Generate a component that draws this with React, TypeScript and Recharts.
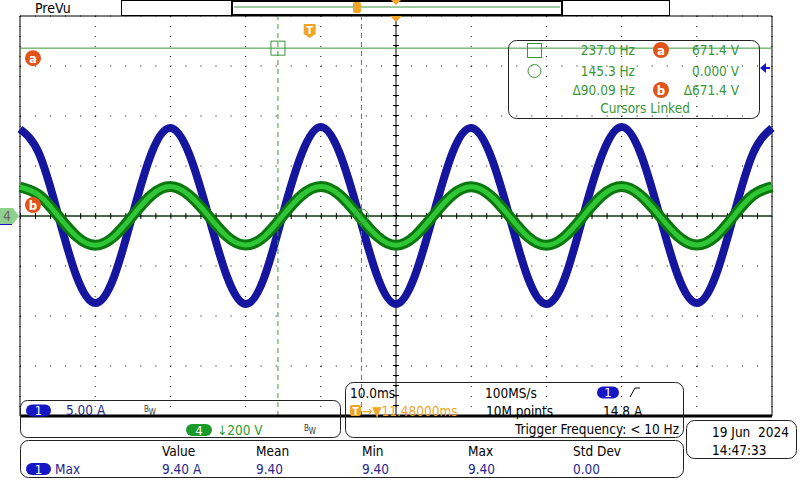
import React from "react";
import {
  ComposedChart,
  Line,
  XAxis,
  YAxis,
  CartesianGrid,
  ReferenceLine,
  ReferenceDot,
} from "recharts";

// time base: 10 ms/div, 10 divisions, trigger point at centre
const timeMs = [
  -50, -47.5, -45, -42.5, -40, -37.5, -35, -32.5, -30, -27.5, -25, -22.5, -20, -17.5,
  -15, -12.5, -10, -7.5, -5, -2.5, 0, 2.5, 5, 7.5, 10, 12.5, 15, 17.5, 20, 22.5, 25,
  27.5, 30, 32.5, 35, 37.5, 40, 42.5, 45, 47.5, 50,
];
// channel 1, current (A), 5 A/div
const ch1Amps = [
  8.7, 6.3, 0.3, -6.0, -8.7, -6.1, 0.2, 6.3, 8.8, 6.2, 0.2, -6.0, -8.8, -6.1, 0.3, 6.3,
  8.9, 6.3, 0.3, -6.0, -8.8, -6.0, 0.2, 6.3, 8.8, 6.2, 0.2, -6.1, -8.8, -6.1, 0.3, 6.3,
  8.9, 6.3, 0.2, -6.0, -8.7, -6.0, 0.3, 6.3, 8.8,
];
// channel 4, voltage (V), 200 V/div
const ch4Volts = [
  116, 84, 3, -81, -117, -82, 2, 84, 118, 83, 3, -81, -116, -82, 3, 84, 118, 84, 2, -81,
  -117, -81, 3, 84, 117, 83, 2, -82, -117, -81, 3, 84, 118, 83, 2, -81, -116, -82, 3, 84,
  117,
];

const timeTicks = [-50, -40, -30, -20, -10, 0, 10, 20, 30, 40, 50];
const ampTicks = [-20, -15, -10, -5, 0, 5, 10, 15, 20];

const triggerTime = -11.48;
const triggerLevel = 14.8;
const cursorTimes = [triggerTime - 4.219, triggerTime + 6.882];
const cursorVolts = [671.4, 0];

const cursorFreq = ["237.0 Hz", "145.3 Hz", "\u039490.09 Hz"];
const cursorVolt = ["671.4 V", "0.000 V", "\u0394671.4 V"];

const measHeaders = ["Value", "Mean", "Min", "Max", "Std Dev"];
const measValues = ["9.40 A", "9.40", "9.40", "9.40", "0.00"];

const data = timeMs.map((t, i) => ({ t, amps: ch1Amps[i], volts: ch4Volts[i] }));

const FONT = "'DejaVu Sans Condensed', 'DejaVu Sans', sans-serif";
const CURSOR = "#3a963a";
const ORANGE = "#e0541c";
const TRIG = "#f0a428";
const PILL_BLUE = "#1616c4";
const TXT_BLUE = "#26268e";

const PLOT = { left: 20, top: 16, width: 752, height: 400 };
const xOf = (t: number) => PLOT.left + ((t + 50) / 100) * PLOT.width;

function Badge({ cx, cy, letter }: { cx: number; cy: number; letter: string }) {
  return (
    <g>
      <circle cx={cx} cy={cy} r={8} fill={ORANGE} />
      <text x={cx} y={cy + 4.5} textAnchor="middle" fill="#fff" fontSize={13} fontWeight="bold" fontFamily={FONT}>
        {letter}
      </text>
    </g>
  );
}

function Pill({ x, y, w, fill, label }: { x: number; y: number; w: number; fill: string; label: string }) {
  return (
    <g>
      <rect x={x} y={y} width={w} height={12} rx={6} fill={fill} />
      <text x={x + w / 2} y={y + 10.5} textAnchor="middle" fill="#fff" fontSize={13} fontFamily={FONT}>
        {label}
      </text>
    </g>
  );
}

function Bw({ x, y }: { x: number; y: number }) {
  return (
    <text x={x} y={y} fontSize={8} fontFamily={FONT} fill="#333">
      B<tspan dy={3}>W</tspan>
    </text>
  );
}

function TIcon({ x, y }: { x: number; y: number }) {
  return (
    <g>
      <rect x={x} y={y} width={11} height={11} rx={2} fill={TRIG} />
      <text x={x + 5.5} y={y + 9.5} textAnchor="middle" fill="#fff" fontSize={10} fontWeight="bold" fontFamily={FONT}>
        T
      </text>
    </g>
  );
}

function Overlay() {
  const tx = xOf(triggerTime);
  const cx0 = xOf(0);
  const t = { fontFamily: FONT, fontSize: 13.5 };
  const measX = [162, 256, 362, 468, 573];
  return (
    <svg width={800} height={480} style={{ position: "absolute", left: 0, top: 0, pointerEvents: "none" }}>
      {/* record view bar */}
      <text x={35} y={13} {...t} fontSize={14}>PreVu</text>
      <rect x={121.5} y={0.5} width={548} height={15} fill="none" stroke="#000" />
      <rect x={232} y={1} width={330} height={14} fill="none" stroke="#000" strokeWidth={2} />
      <line x1={234} x2={560} y1={7} y2={7} stroke={CURSOR} />
      <rect x={353} y={2} width={8} height={11} rx={2} fill={TRIG} />
      <polygon points={`${cx0 - 5},0 ${cx0 + 5},0 ${cx0},5`} fill={TRIG} />
      <polygon points={`${cx0 - 6},16 ${cx0 + 6},16 ${cx0},22`} fill={TRIG} />
      {/* trigger marker */}
      <path d={`M${tx - 6},24 h12 v10 l-6,4 l-6,-4 z`} fill={TRIG} />
      <text x={tx} y={34} textAnchor="middle" fill="#fff" fontSize={11} fontWeight="bold" fontFamily={FONT}>T</text>

      {/* cursor readout */}
      <rect x={508.5} y={40.5} width={251} height={78} rx={8} fill="none" stroke="#222" />
      <rect x={527.5} y={43.5} width={14} height={14} fill="none" stroke={CURSOR} />
      <circle cx={534.5} cy={71} r={6.5} fill="none" stroke={CURSOR} />
      {cursorFreq.map((s, i) => (
        <text key={s} x={635} y={[55, 76, 95][i]} textAnchor="end" fill={CURSOR} {...t}>{s}</text>
      ))}
      {cursorVolt.map((s, i) => (
        <text key={s} x={739} y={[55, 76, 95][i]} textAnchor="end" fill={CURSOR} {...t}>{s}</text>
      ))}
      <Badge cx={661} cy={50} letter="a" />
      <Badge cx={661} cy={90} letter="b" />
      <text x={645} y={113} textAnchor="middle" fill={CURSOR} {...t}>Cursors Linked</text>

      {/* vertical settings */}
      <rect x={20.5} y={400.5} width={320} height={37} rx={7} fill="none" stroke="#222" />
      <Pill x={26} y={404.5} w={25} fill={PILL_BLUE} label="1" />
      <text x={66} y={415} fill={TXT_BLUE} {...t}>5.00 A</text>
      <Bw x={144} y={412} />
      <Pill x={186} y={424} w={26} fill="#1a9a2a" label="4" />
      <text x={217} y={435} fill="#2a9a2a" {...t}>{"\u2193200 V"}</text>
      <Bw x={304} y={431} />

      {/* horizontal / trigger */}
      <rect x={345.5} y={382.5} width={338} height={55} rx={8} fill="none" stroke="#222" />
      <text x={350} y={398} {...t}>10.0ms</text>
      <text x={485} y={398} {...t}>100MS/s</text>
      <Pill x={597} y={386.5} w={22} fill={PILL_BLUE} label="1" />
      <path d="M630,397 L635,388 L640,388" fill="none" stroke="#000" />
      <TIcon x={350} y={405} />
      <text x={362} y={416} fill={TRIG} {...t}>{"\u2192\u25BC11.48000ms"}</text>
      <text x={486} y={416} {...t}>10M points</text>
      <text x={603} y={416} {...t}>14.8 A</text>
      <text x={679} y={434} textAnchor="end" {...t}>{"Trigger Frequency: < 10 Hz"}</text>

      {/* date */}
      <rect x={686.5} y={420.5} width={110} height={38} rx={8} fill="none" stroke="#222" />
      <text x={712} y={437} {...t} style={{ whiteSpace: "pre" }}>{"19 Jun  2024"}</text>
      <text x={712} y={455} {...t}>14:47:33</text>

      {/* measurements */}
      <rect x={20.5} y={440.5} width={663} height={37} rx={8} fill="none" stroke="#222" />
      {measHeaders.map((h, i) => (
        <text key={h} x={measX[i]} y={456} {...t}>{h}</text>
      ))}
      <Pill x={26} y={463} w={25} fill={PILL_BLUE} label="1" />
      <text x={55} y={474} fill={TXT_BLUE} {...t}>Max</text>
      {measValues.map((v, i) => (
        <text key={i} x={measX[i]} y={474} fill={TXT_BLUE} {...t}>{v}</text>
      ))}
    </svg>
  );
}

export default function App() {
  return (
    <div style={{ position: "absolute", left: 0, top: 0, width: 800, height: 480, background: "#fff" }}>
      <ComposedChart
        width={800}
        height={480}
        data={data}
        margin={{ top: 16, right: 28, bottom: 64, left: 20 }}
      >
        <XAxis dataKey="t" type="number" domain={[-50, 50]} ticks={timeTicks} hide />
        <YAxis yAxisId="i" domain={[-20, 20]} ticks={ampTicks} hide />
        <YAxis yAxisId="v" domain={[-800, 800]} hide />
        <CartesianGrid yAxisId="i" vertical={false} stroke="#000" strokeDasharray="1 14.04" />
        <CartesianGrid yAxisId="i" horizontal={false} stroke="#000" strokeDasharray="1 9" />

        <ReferenceLine yAxisId="v" y={cursorVolts[1]} stroke={CURSOR} />
        <ReferenceLine yAxisId="i" y={0} stroke="#000" />
        <ReferenceLine yAxisId="i" y={0} stroke="#000" strokeWidth={6} strokeDasharray="1 14.04" />
        <ReferenceLine yAxisId="i" x={0} stroke="#000" />
        <ReferenceLine yAxisId="i" x={0} stroke="#000" strokeWidth={6} strokeDasharray="1 9" />
        <ReferenceLine yAxisId="i" x={-50} stroke="#000" />
        <ReferenceLine yAxisId="i" x={50} stroke="#000" />
        <ReferenceLine yAxisId="i" y={20} stroke="#000" />

        <Line yAxisId="i" dataKey="amps" type="natural" stroke="#15159e" strokeWidth={8} dot={false} isAnimationActive={false} />
        <Line yAxisId="v" dataKey="volts" type="natural" stroke="#0c760e" strokeWidth={11} dot={false} isAnimationActive={false} />
        <Line yAxisId="v" dataKey="volts" type="natural" stroke="#2ec634" strokeWidth={5} dot={false} isAnimationActive={false} />

        <ReferenceLine yAxisId="v" y={cursorVolts[0]} stroke={CURSOR} />
        <ReferenceLine yAxisId="i" x={cursorTimes[0]} stroke={CURSOR} strokeDasharray="5 4" />
        <ReferenceLine yAxisId="i" x={cursorTimes[1]} stroke={CURSOR} strokeDasharray="5 4" />
        <ReferenceLine yAxisId="i" y={-20} stroke="#000" strokeWidth={3} />

        <ReferenceDot
          yAxisId="v"
          x={cursorTimes[0]}
          y={cursorVolts[0]}
          shape={(p: any) => <rect x={p.cx - 7} y={p.cy - 7} width={14} height={14} fill="none" stroke={CURSOR} />}
        />
        <ReferenceDot
          yAxisId="v"
          x={cursorTimes[1]}
          y={cursorVolts[1]}
          shape={(p: any) => <circle cx={p.cx} cy={p.cy} r={7} fill="none" stroke={CURSOR} />}
        />
        <ReferenceDot
          yAxisId="v"
          x={-50}
          y={0}
          ifOverflow="visible"
          shape={(p: any) => (
            <g>
              <line x1={0} x2={12} y1={p.cy + 8} y2={p.cy + 8} stroke={PILL_BLUE} strokeWidth={2} />
              <polygon
                points={`0,${p.cy - 8} 13,${p.cy - 8} 19,${p.cy} 13,${p.cy + 8} 0,${p.cy + 8}`}
                fill="#8fd08f"
              />
              <text x={7} y={p.cy + 5} textAnchor="middle" fill="#6a6a6a" fontSize={14} fontFamily={FONT}>4</text>
            </g>
          )}
        />
        <ReferenceDot
          yAxisId="v"
          x={-50}
          y={cursorVolts[0]}
          ifOverflow="visible"
          shape={(p: any) => <Badge cx={p.cx + 13} cy={p.cy + 10} letter="a" />}
        />
        <ReferenceDot
          yAxisId="v"
          x={-50}
          y={cursorVolts[1]}
          ifOverflow="visible"
          shape={(p: any) => <Badge cx={p.cx + 13} cy={p.cy - 11} letter="b" />}
        />
        <ReferenceDot
          yAxisId="i"
          x={50}
          y={triggerLevel}
          ifOverflow="visible"
          shape={(p: any) => (
            <path d={`M${p.cx - 12},${p.cy} l6,-5 v4 h4 v2 h-4 v4 z`} fill={PILL_BLUE} />
          )}
        />
      </ComposedChart>
      <Overlay />
    </div>
  );
}
